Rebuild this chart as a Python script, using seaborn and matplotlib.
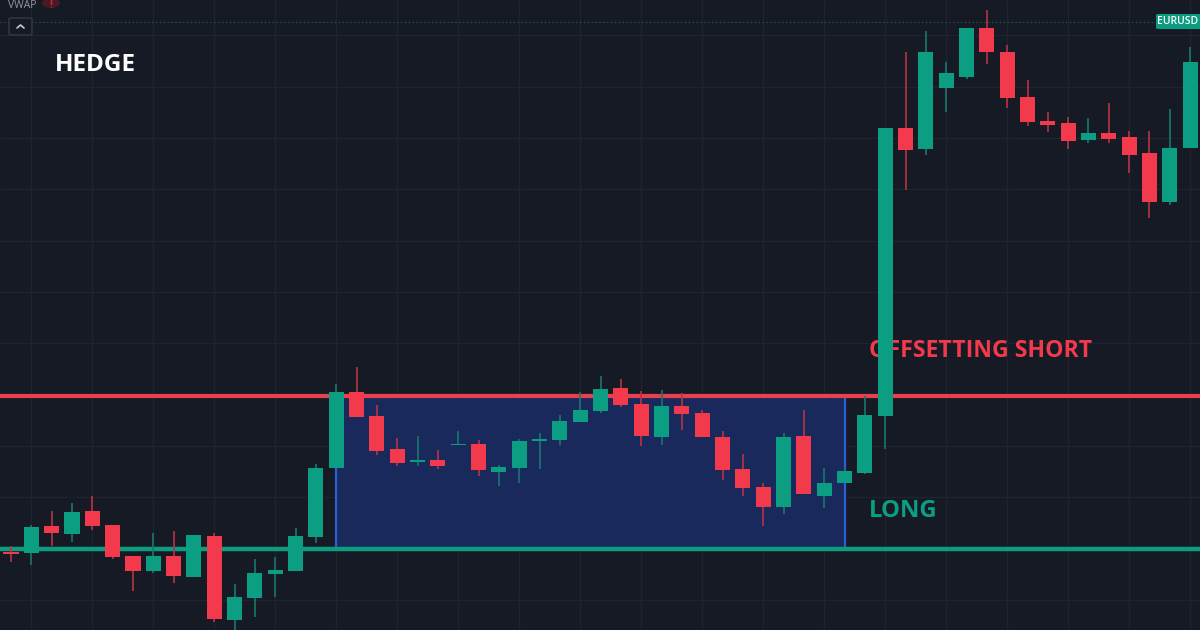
import numpy as np
import pandas as pd
import matplotlib
matplotlib.use("Agg")
import matplotlib.pyplot as plt
from matplotlib.patches import Circle, FancyBboxPatch, Rectangle
import seaborn as sns

# Price in chart points above the lower edge of the view
body_top = [78, 103, 104, 118, 119, 105, 74, 74, 74, 95, 94, 33, 57, 60, 94, 162, 238, 238,
            214, 181, 170, 170, 186, 186, 163, 189, 191, 209, 220, 241, 242,
            226, 224, 224, 217, 193, 161, 143, 193, 194, 147, 159, 215, 502,
            502, 578, 557, 602, 602, 578, 533, 509, 507, 497, 497, 493, 477, 482, 568]
body_bot = [76, 77, 97, 96, 104, 73, 59, 59, 54, 53, 11, 10, 32, 56, 59, 93, 162, 213,
            179, 167, 168, 164, 185, 160, 158, 162, 189, 190, 208, 219, 225,
            194, 193, 216, 193, 160, 142, 123, 123, 136, 134, 147, 157, 214,
            480, 481, 542, 553, 578, 532, 508, 505, 489, 490, 491, 475, 428, 428, 482]
highs = [84, 105, 119, 127, 134, 105, 74, 97, 99, 95, 97, 46, 71, 73, 102, 166, 246, 263,
         225, 192, 194, 180, 199, 190, 165, 191, 197, 215, 238, 254, 251,
         239, 240, 237, 220, 199, 176, 147, 197, 220, 162, 162, 234, 502,
         578, 599, 568, 602, 620, 585, 550, 518, 513, 512, 527, 499, 499, 521, 583]
lows = [68, 65, 84, 88, 100, 71, 39, 57, 47, 53, 8, 0, 13, 33, 59, 87, 162, 213,
        175, 164, 164, 161, 185, 154, 144, 147, 161, 185, 208, 217, 223,
        184, 185, 200, 193, 150, 134, 104, 116, 136, 122, 147, 156, 181,
        440, 475, 518, 551, 566, 522, 504, 498, 481, 487, 487, 457, 412, 425, 482]
is_up = [0, 1, 0, 1, 0, 0, 0, 1, 0, 1, 0, 1, 1, 1, 1, 1, 1, 0,
         0, 0, 1, 0, 1, 0, 1, 1, 1, 1, 1, 1, 0,
         0, 1, 0, 0, 0, 0, 0, 1, 0, 1, 1, 1, 1,
         0, 1, 1, 1, 0, 0, 0, 0, 0, 1, 0, 0, 0, 1, 1]
short_level = 234.5
long_level = 81.5
range_start, range_end = 16, 41
last_price_level = 608.5
labels = ["HEDGE", "OFFSETTING SHORT", "LONG"]
symbol = "EURUSD"
study = "VWAP"

BG, GRID = "#161A25", "#1F232E"
RED, GREEN = "#F23A4C", "#0C9E82"
W, H = 1200, 630
sns.set_theme(style="dark", rc={"axes.facecolor": BG, "figure.facecolor": BG})
plt.rcParams["font.family"] = ["Open Sans", "DejaVu Sans"]

df = pd.DataFrame({"i": np.arange(len(is_up)), "top": body_top, "bot": body_bot,
                   "high": highs, "low": lows, "up": is_up})
df["h"] = df["top"] - df["bot"]

fig = plt.figure(figsize=(12, 6.3), dpi=100)
ax = fig.add_axes([0, 0, 1, 1])
step = 20.33
ax.set_xlim(-11 / step, (W - 11) / step)
ax.set_ylim(0, H)

ax.set_xticks(np.arange(1, len(is_up), 3))
ax.set_yticks(np.arange(30, 630, 51.35))
ax.grid(True, color=GRID, lw=1)
ax.set_axisbelow(True)
ax.tick_params(left=False, bottom=False, labelleft=False, labelbottom=False)
for s in ax.spines.values():
    s.set_visible(False)

# hedge range
ax.add_patch(Rectangle((range_start, long_level), range_end - range_start, short_level - long_level,
                       facecolor="#1B2B60", alpha=0.92, edgecolor="none", zorder=1.2))
ax.vlines([range_start, range_end], long_level, short_level, color="#2A5FD8", lw=1.6, zorder=1.3)
ax.axhline(short_level, color="#E8404E", lw=3, zorder=1.5)
ax.axhline(long_level, color="#0E9C80", lw=3.2, zorder=1.5)
ax.axhline(last_price_level, color="#1E6E66", lw=0.8, ls=(0, (1, 2.5)), zorder=1.5)

# labels behind candles
tf = lambda x, y: (x / W, 1 - y / H)
ax.text(*tf(55, 65), labels[0], transform=ax.transAxes, color="white", fontsize=17.5,
        fontweight="bold", va="center", zorder=1.6)
ax.text(*tf(869, 351), labels[1], transform=ax.transAxes, color=RED, fontsize=16.6,
        fontweight="bold", va="center", zorder=1.6)
ax.text(*tf(869, 511), labels[2], transform=ax.transAxes, color=GREEN, fontsize=17.2,
        fontweight="bold", va="center", zorder=1.6)

# wicks
for up, col in ((1, "#16786C"), (0, "#B93344")):
    d = df[df.up == up]
    ax.vlines(d.i, d.low, d.high, color=col, lw=1.2, zorder=2)

# bodies
for up, col in ((1, GREEN), (0, RED)):
    d = df[df.up == up]
    sns.barplot(x=d.i.values, y=d.h.values, bottom=d.bot.values, color=col, native_scale=True,
                width=0.74, saturation=1, errorbar=None, linewidth=0, ax=ax, zorder=3)

ax.set_xlim(-11 / step, (W - 11) / step)
ax.set_ylim(0, H)
ax.set_xlabel("")
ax.set_ylabel("")

# interface pieces
ax.text(*tf(8, 5), study, transform=ax.transAxes, color="#9598A1", fontsize=7.5, va="center", zorder=6)
ax.add_patch(Circle((51 / W, 1 - 3 / H), 0.0075, transform=ax.transAxes, facecolor="#4A1A24",
                    edgecolor="none", zorder=5.5))
ax.text(*tf(51, 5), "!", transform=ax.transAxes, color="#C2262F", fontsize=8, fontweight="bold",
        ha="center", va="center", zorder=6)
ax.add_patch(FancyBboxPatch((9 / W, 1 - 35 / H), 23 / W, 17 / H, boxstyle="round,pad=0,rounding_size=0.002",
                            transform=ax.transAxes, facecolor=BG, edgecolor="#363A45", lw=1, zorder=6))
ax.plot([17 / W, 20.5 / W, 24 / W], [1 - 28 / H, 1 - 25 / H, 1 - 28 / H], transform=ax.transAxes,
        color="#C8CBD2", lw=1.2, zorder=7)
ax.add_patch(FancyBboxPatch((1156 / W, 1 - 29 / H), 50 / W, 15 / H, boxstyle="round,pad=0,rounding_size=0.002",
                            transform=ax.transAxes, facecolor="#0B9B80", edgecolor="none", zorder=6))
ax.text(*tf(1178, 21.5), symbol, transform=ax.transAxes, color="white", fontsize=7.5, ha="center",
        fontweight="semibold", va="center", zorder=7)

fig.savefig("out.png", dpi=100, facecolor=BG)
